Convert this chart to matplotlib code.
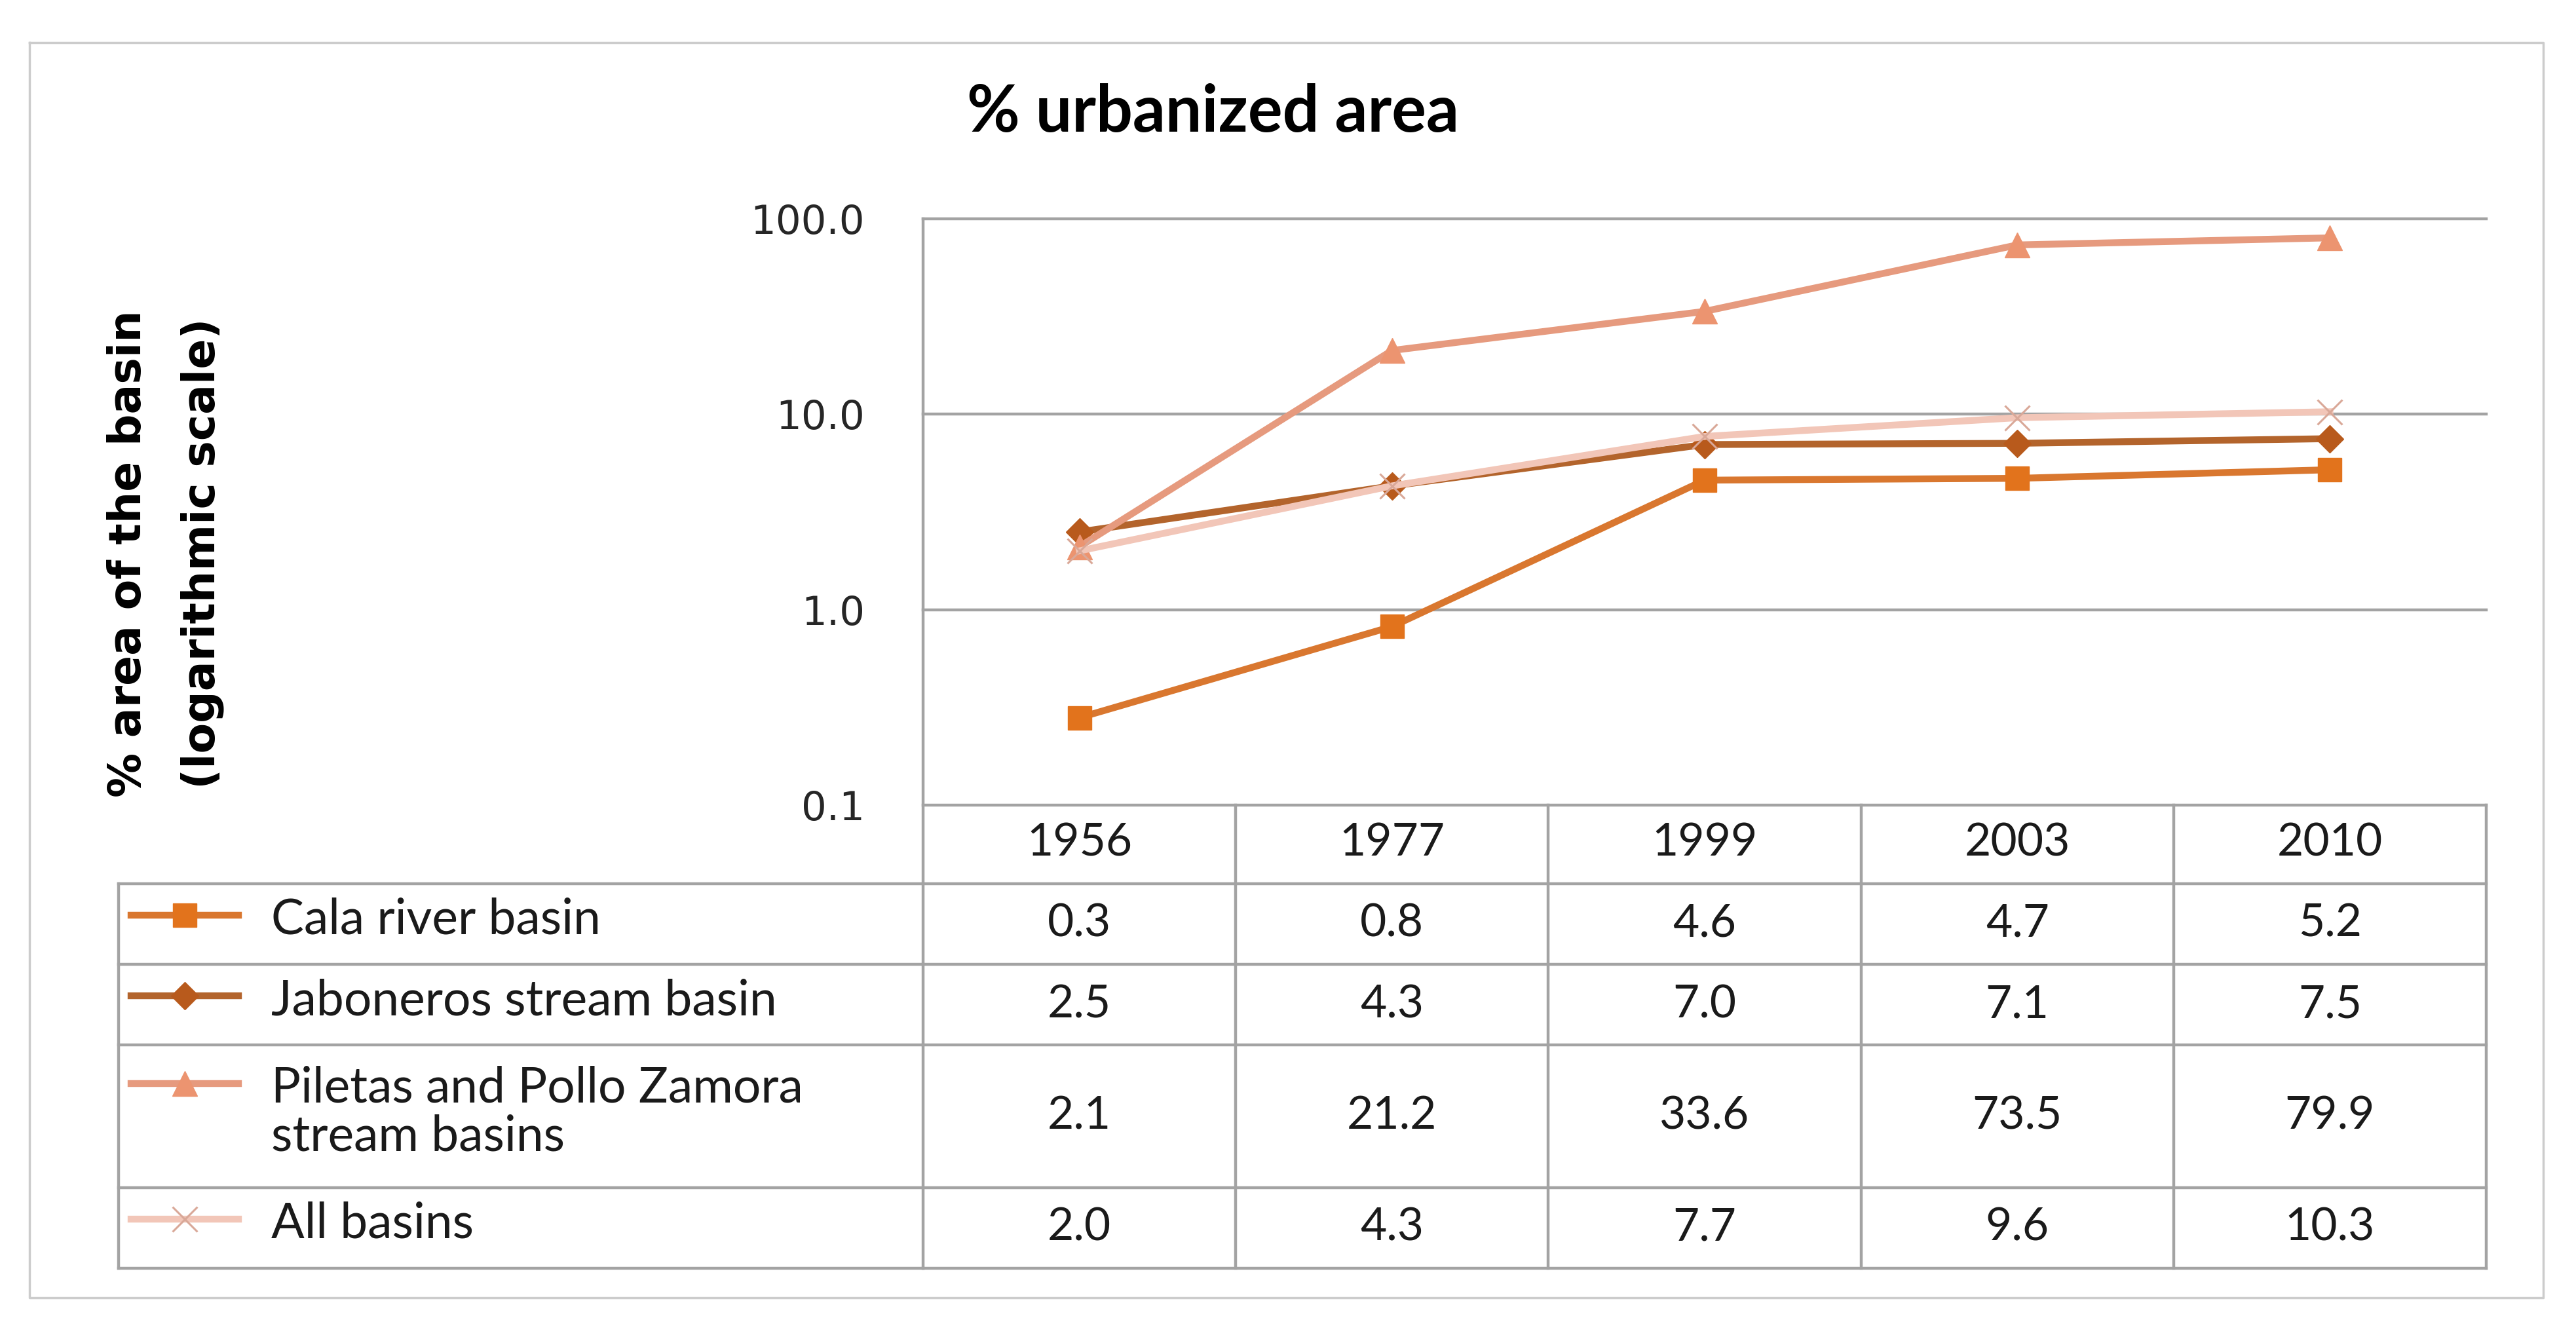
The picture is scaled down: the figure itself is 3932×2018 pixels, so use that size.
import matplotlib
matplotlib.use("Agg")
import matplotlib.pyplot as plt
import matplotlib.transforms as mtransforms

# data
years = ["1956", "1977", "1999", "2003", "2010"]
series_names = ["Cala river basin", "Jaboneros stream basin",
                "Piletas and Pollo Zamora\nstream basins", "All basins"]
cala = [0.28, 0.82, 4.6, 4.7, 5.2]
jaboneros = [2.5, 4.3, 7.0, 7.1, 7.5]
piletas = [2.1, 21.2, 33.6, 73.5, 79.9]
all_basins = [2.0, 4.3, 7.7, 9.6, 10.3]
y_ticks = [0.1, 1.0, 10.0, 100.0]

W, H = 3932, 2018
fig = plt.figure(figsize=(W / 100, H / 100), dpi=100)
fig.patch.set_facecolor("white")

grid_col = "#a3a3a3"
txt_font = "Lato"

styles = [
    dict(color="#d9772f", marker="s", mfc="#e2731c", mec="#e2731c", ms=26, mew=1),
    dict(color="#b3642c", marker="D", mfc="#b85a1c", mec="#b85a1c", ms=21, mew=1),
    dict(color="#e69a7e", marker="^", mfc="#ec9470", mec="#ec9470", ms=28, mew=1),
    dict(color="#f2c6b8", marker="x", mfc="none", mec="#d9a898", ms=28, mew=2.2),
]
all_series = [cala, jaboneros, piletas, all_basins]

# overlay axes in pixel coordinates for frame + table
tb = fig.add_axes([0, 0, 1, 1], zorder=0)
tb.set_xlim(0, W)
tb.set_ylim(H, 0)
tb.axis("off")

# outer frame
tb.plot([45, 3882, 3882, 45, 45], [65, 65, 1981, 1981, 65], color="#cccccc", lw=2.5)

# plot axes
ax = fig.add_axes([1409 / W, 1 - 1229 / H, (3795 - 1409) / W, (1229 - 334) / H], zorder=2)
ax.set_facecolor("none")
ax.set_yscale("log")
ax.set_ylim(0.1, 100)
ax.set_xlim(-0.5, len(years) - 0.5)
for s in ax.spines.values():
    s.set_visible(False)
ax.set_xticks([])
ax.set_yticks(y_ticks)
ax.set_yticklabels([f"{v:.1f}" for v in y_ticks], fontsize=44, color="#262626")
ax.yaxis.set_minor_locator(matplotlib.ticker.NullLocator())
ax.tick_params(axis="y", length=0, pad=64)
for v in y_ticks:
    ax.axhline(v, color=grid_col, lw=3.2, clip_on=False, zorder=1)

xs = list(range(len(years)))
for vals, st in zip(all_series, styles):
    ax.plot(xs, vals, color=st["color"], lw=7.5, marker=st["marker"], ms=st["ms"],
            mfc=st["mfc"], mec=st["mec"], mew=st["mew"], zorder=3, clip_on=False)

ax.set_ylabel("% area of the basin\n(logarithmic scale)", fontsize=49,
              fontweight="bold", linespacing=1.9, labelpad=0)
ax.yaxis.set_label_coords(342, 845, transform=tb.transData)

# title
tb.text(1851, 172, "% urbanized area", ha="center", va="center", fontsize=71,
        fontweight="bold", family=txt_font)

# table: x from plot data coords, y in pixels
bt = mtransforms.blended_transform_factory(ax.transData, tb.transData)
row_edges = [1229, 1349, 1472, 1595, 1813, 1936]
left_px = 181
x_left_data = -0.5
x_right_data = len(years) - 0.5

# horizontal lines
for y in row_edges[1:]:
    tb.plot([left_px, 1409], [y, y], color=grid_col, lw=3.2)
    tb.plot([x_left_data, x_right_data], [y, y], color=grid_col, lw=3.2, transform=bt)
# vertical lines
tb.plot([left_px, left_px], [row_edges[1], row_edges[-1]], color=grid_col, lw=3.2)
for k in range(len(years) + 1):
    xk = k - 0.5
    top = 334 if k == 0 else row_edges[0]
    tb.plot([xk, xk], [top, row_edges[-1]], color=grid_col, lw=3.2, transform=bt)

# header
for i, yr in enumerate(years):
    tb.text(i, (row_edges[0] + row_edges[1]) / 2 - 2, yr, transform=bt, ha="center",
            va="center", fontsize=50, family=txt_font, color="#1a1a1a")

line_h = 72
for r, (name, vals, st) in enumerate(zip(series_names, all_series, styles)):
    yc = (row_edges[r + 1] + row_edges[r + 2]) / 2
    for i, v in enumerate(vals):
        tb.text(i, yc, f"{v:.1f}", transform=bt, ha="center", va="center",
                fontsize=50, family=txt_font, color="#1a1a1a")
    nlines = name.count("\n") + 1
    ty = yc - 6
    tb.text(414, ty, name, ha="left", va="center", fontsize=54, family=txt_font,
            color="#1a1a1a", linespacing=1.1)
    ky = ty - (nlines - 1) * line_h / 2 - 8
    tb.plot([200, 364], [ky, ky], color=st["color"], lw=7.5)
    tb.plot([282], [ky], marker=st["marker"], ms=st["ms"], mfc=st["mfc"],
            mec=st["mec"], mew=st["mew"], ls="none")

fig.savefig("out.png", dpi=100, facecolor="white")
